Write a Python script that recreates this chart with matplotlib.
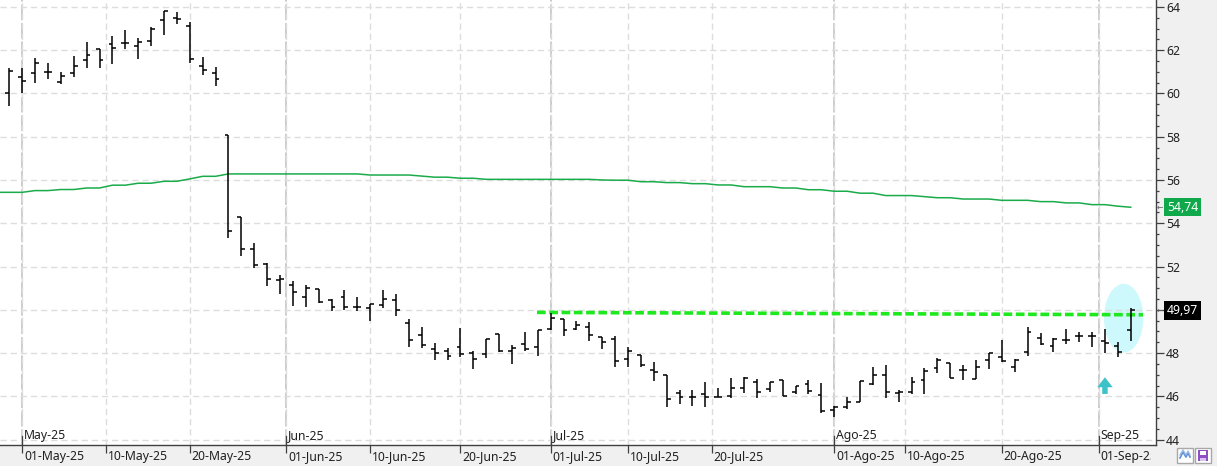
import numpy as np
import pandas as pd
import matplotlib
matplotlib.use('Agg')
import matplotlib.pyplot as plt
from matplotlib.patches import Ellipse, FancyArrow, Rectangle
from matplotlib.lines import Line2D
from matplotlib.ticker import FixedLocator, MultipleLocator
from matplotlib.transforms import blended_transform_factory, Bbox, TransformedBbox, ScaledTranslation

plt.rcParams['font.family'] = ['Noto Sans', 'DejaVu Sans']

# OHLC diario (30-abr-25 .. 04-sep-25)
opens = [60.01, 60.75, 60.93, 61.01, 60.53, 60.93, 61.54, 62.04, 62.28, 62.32,
         62.18, 62.41, 63.38, 63.49, 63.11, 61.26, 60.95, 58.08, 54.31, 52.80,
         52.12, 51.38, 51.15, 50.58, 50.95, 50.45, 50.58, 50.14, 50.07, 50.22,
         50.45, 49.40, 48.84, 48.17, 48.10, 48.27, 48.02, 47.96, 48.88, 48.10,
         48.42, 48.28, 49.10, 49.56, 49.10, 49.19, 48.73, 48.64, 47.71, 47.91,
         47.22, 46.99, 46.14, 45.96, 46.09, 45.96, 46.03, 46.40, 46.68, 46.33,
         46.76, 46.19, 46.57, 46.06, 45.37, 45.49, 45.72, 46.57, 46.99, 46.14,
         46.19, 46.76, 47.30, 47.53, 47.22, 46.79, 47.68, 47.83, 47.34, 48.06,
         48.68, 48.33, 48.60, 48.79, 48.79, 48.57, 48.33, 49.07]
highs = [61.17, 61.17, 61.63, 61.41, 61.00, 61.73, 62.38, 62.04, 62.66, 62.94,
         62.55, 63.06, 63.83, 63.75, 63.29, 61.67, 61.21, 58.08, 54.31, 53.07,
         52.15, 51.61, 51.35, 51.15, 50.96, 50.49, 50.92, 50.58, 50.27, 50.92,
         50.73, 49.56, 49.22, 48.48, 48.25, 49.15, 48.10, 48.66, 48.88, 48.36,
         48.97, 49.07, 49.87, 49.56, 49.50, 49.42, 48.76, 48.79, 48.30, 47.91,
         47.57, 46.99, 46.29, 46.29, 46.65, 46.37, 46.83, 46.91, 46.79, 46.65,
         46.76, 46.48, 46.76, 46.60, 45.55, 45.96, 46.72, 47.34, 47.45, 46.29,
         46.91, 47.30, 47.76, 47.53, 47.45, 47.68, 48.02, 48.60, 47.73, 49.19,
         48.94, 48.68, 49.10, 48.99, 48.99, 49.10, 48.53, 50.10]
lows = [59.44, 60.04, 60.47, 60.66, 60.43, 60.78, 61.19, 61.19, 61.38, 62.07,
        61.61, 62.21, 62.72, 63.20, 61.40, 60.87, 60.36, 53.31, 52.50, 51.95,
        51.12, 50.75, 50.19, 50.14, 50.30, 49.93, 49.99, 49.96, 49.50, 50.07,
        49.73, 48.30, 48.22, 47.67, 47.67, 47.80, 47.28, 47.79, 48.06, 47.48,
        48.08, 47.85, 49.07, 48.80, 49.07, 48.54, 48.17, 47.34, 47.34, 47.34,
        46.72, 45.49, 45.63, 45.57, 45.52, 45.96, 45.91, 46.14, 45.94, 46.19,
        46.03, 46.11, 46.09, 45.22, 45.03, 45.41, 45.72, 46.52, 45.91, 45.72,
        46.11, 46.09, 47.06, 46.87, 46.76, 46.79, 47.25, 47.60, 47.11, 47.88,
        48.37, 48.04, 48.42, 48.53, 48.30, 48.02, 47.80, 48.57]
closes = [61.04, 60.57, 61.41, 61.01, 60.80, 61.26, 61.77, 61.54, 62.12, 62.35,
          62.40, 62.97, 63.80, 63.43, 61.58, 61.07, 60.66, 53.66, 52.80, 52.06,
          51.41, 51.41, 50.81, 51.00, 50.35, 50.12, 50.12, 50.12, 50.27, 50.50,
          49.97, 48.59, 48.36, 48.01, 47.85, 47.94, 47.71, 48.66, 48.11, 48.22,
          48.17, 49.07, 49.61, 49.07, 49.30, 48.82, 48.53, 47.64, 48.10, 47.44,
          47.14, 45.88, 45.96, 45.96, 45.96, 45.98, 46.40, 46.83, 46.21, 46.65,
          46.03, 46.48, 46.26, 45.32, 45.49, 45.76, 46.72, 46.99, 46.21, 46.19,
          46.68, 47.19, 47.68, 46.87, 47.22, 47.37, 48.02, 47.62, 47.68, 48.96,
          48.42, 48.64, 48.60, 48.79, 48.79, 48.45, 48.06, 49.97]

# media movil (empieza una sesion antes del primer bar visible)
ma = [55.43, 55.43, 55.43, 55.51, 55.51, 55.56, 55.56, 55.63, 55.63, 55.76,
      55.76, 55.85, 55.85, 55.94, 55.94, 56.05, 56.17, 56.17, 56.28, 56.28,
      56.28, 56.28, 56.28, 56.28, 56.28, 56.28, 56.28, 56.28, 56.28, 56.23,
      56.23, 56.23, 56.23, 56.18, 56.13, 56.13, 56.08, 56.08, 56.03, 56.03,
      56.03, 56.03, 56.03, 56.03, 56.03, 56.03, 56.03, 56.00, 55.99, 55.99,
      55.92, 55.92, 55.88, 55.88, 55.83, 55.83, 55.77, 55.77, 55.69, 55.69,
      55.69, 55.63, 55.63, 55.55, 55.55, 55.48, 55.48, 55.39, 55.39, 55.28,
      55.28, 55.28, 55.23, 55.18, 55.18, 55.12, 55.12, 55.12, 55.06, 55.06,
      55.06, 55.00, 55.00, 54.94, 54.94, 54.86, 54.86, 54.79, 54.74]

holidays = ['2025-05-26', '2025-06-19', '2025-07-04', '2025-09-01']
label_dates = ['2025-05-01', '2025-05-10', '2025-05-20', '2025-06-01', '2025-06-10',
               '2025-06-20', '2025-07-01', '2025-07-10', '2025-07-20', '2025-08-01',
               '2025-08-10', '2025-08-20', '2025-09-01']
month_dates = ['2025-05-01', '2025-06-01', '2025-07-01', '2025-08-01', '2025-09-01']
mes = {5: 'May', 6: 'Jun', 7: 'Jul', 8: 'Ago', 9: 'Sep'}

resist = [49.88, 49.77]      # linea de resistencia discontinua
last_ma = 54.74
last_close = closes[-1]

dates = pd.bdate_range('2025-04-30', '2025-09-04')
dates = dates[~dates.isin(pd.to_datetime(holidays))]

def pos(d):
    d = pd.Timestamp(d)
    i = dates.searchsorted(d)
    return float(i) if (i < len(dates) and dates[i] == d) else i - 0.5

W, H = 1217, 466
fs = 8.8
fig = plt.figure(figsize=(W / 100, H / 100), dpi=100, facecolor='#f0f0f0')
ax = fig.add_axes([0, 21 / H, 1156 / W, 445 / H])
ax.set_facecolor('white')

x = np.arange(len(opens))
ax.set_xlim(-0.72, 88.96)
ax.set_ylim(43.75, 64.32)

# circulo de la ultima sesion
ax.add_patch(Ellipse((86.45, 49.61), 3.05, 3.18, facecolor='#cdf8fc', edgecolor='none', zorder=1))

# grid
xt = [pos(d) for d in label_dates]
ax.xaxis.set_major_locator(FixedLocator(xt))
ax.set_xticklabels(['%s-%s-%s' % (pd.Timestamp(d).strftime('%d'), mes[pd.Timestamp(d).month], pd.Timestamp(d).strftime('%y'))
                    for d in label_dates], ha='left')
ax.grid(True, which='major', color='#dddddd', ls=(0, (4.5, 2.8)), lw=1, zorder=0)
for d in month_dates:
    ax.axvline(pos(d), color='#cccccc', lw=1.4, ls=(0, (8, 1.5)), zorder=0)

# medias y lineas
ax.plot(np.arange(-1, len(opens)), ma, color='#1aab4a', lw=1.1, zorder=2)
ax.plot([40.94, 87.95], resist, color='#1ee81e', lw=2.6, ls=(0, (2.4, 1.0)), zorder=2)

# barras OHLC
ax.vlines(x, lows, highs, color='black', lw=1.1, zorder=3)
ax.hlines(opens, x - 0.3, x, color='black', lw=1.1, zorder=3)
ax.hlines(closes, x, x + 0.3, color='black', lw=1.1, zorder=3)

# flecha
ax.add_patch(FancyArrow(85, 46.11, 0, 0.77, width=0.42, head_width=1.2, head_length=0.46,
                        length_includes_head=True, color='#3cc2c8', lw=0, zorder=3))

# ejes
for s in ['left', 'top']:
    ax.spines[s].set_visible(False)
for s in ['right', 'bottom']:
    ax.spines[s].set_color('#404040')
    ax.spines[s].set_linewidth(1)

ax.yaxis.tick_right()
ax.set_yticks(np.arange(44, 65, 2))
ax.yaxis.set_minor_locator(MultipleLocator(0.5))
ax.tick_params(axis='y', which='major', length=5.8, width=0.9, pad=1.5, labelsize=fs,
               color='#404040', labelcolor='#202020')
ax.tick_params(axis='y', which='minor', length=2.5, width=0.9, color='#404040')
ax.tick_params(axis='x', which='major', direction='out', length=5.8, width=0.9, pad=-2.3,
               labelsize=fs, color='#404040', labelcolor='#202020')

# la etiqueta 50 queda tapada por el recuadro del ultimo precio
for t, lab in zip(ax.get_yticks(), ax.get_yticklabels()):
    if abs(t - round(last_close)) < 0.01:
        lab.set_visible(False)

# las fechas se cortan antes del borde del grafico
clip = TransformedBbox(Bbox([[0, 0], [1151 / W, 1]]), fig.transFigure)
for lab in ax.get_xticklabels():
    lab.set_transform(lab.get_transform() + ScaledTranslation(2 / 100, 0, fig.dpi_scale_trans))
    lab.set_clip_box(clip)
    lab.set_clip_on(True)

# meses
bt = blended_transform_factory(ax.transData, ax.transAxes)
for d in month_dates:
    p = pos(d)
    ax.plot([p, p], [0, 9 / 445], transform=bt, color='#404040', lw=0.9, clip_on=False, zorder=4)
    t = pd.Timestamp(d)
    ax.text(p, 6 / 445, '%s-%s' % (mes[t.month], t.strftime('%y')), transform=bt + ScaledTranslation(2 / 100, 0, fig.dpi_scale_trans),
            ha='left', va='baseline', fontsize=fs, color='#202020', zorder=4)

# etiquetas de precio a la derecha
by = blended_transform_factory(ax.transAxes, ax.transData)
ax.annotate(f'{last_ma:.2f}'.replace('.', ','), xy=(1, last_ma), xycoords=by, xytext=(11, 0),
            textcoords='offset pixels', va='center', ha='left', fontsize=fs, color='white',
            bbox=dict(boxstyle='square,pad=0.22', facecolor='#0fa84a', edgecolor='none'), annotation_clip=False)
ax.annotate(f'{last_close:.2f}'.replace('.', ','), xy=(1, last_close), xycoords=by, xytext=(11, 0),
            textcoords='offset pixels', va='center', ha='left', fontsize=fs, color='white',
            bbox=dict(boxstyle='square,pad=0.22', facecolor='black', edgecolor='none'), annotation_clip=False)
for v in [last_ma, last_close]:
    ax.annotate('\u2190', xy=(1, v), xycoords=by, xytext=(1, 0), textcoords='offset pixels',
                va='center', ha='left', fontsize=5.5, color='#606060', family='DejaVu Sans', annotation_clip=False)

# botones abajo a la derecha
fig.add_artist(Rectangle((1177 / W, 3 / H), 16 / W, 15 / H, transform=fig.transFigure,
                         facecolor='white', edgecolor='#a8a8a8', lw=1))
fig.add_artist(Line2D(np.array([1180, 1183, 1186, 1188, 1190]) / W, np.array([8, 14, 9, 13, 9]) / H,
                      transform=fig.transFigure, color='#5b8fd6', lw=1.2))
fig.add_artist(Line2D(np.array([1180, 1183, 1186, 1188, 1190]) / W, np.array([11, 16, 11, 15, 11]) / H,
                      transform=fig.transFigure, color='#9ab8e0', lw=1.0))
fig.add_artist(Rectangle((1195 / W, 3 / H), 16 / W, 15 / H, transform=fig.transFigure,
                         facecolor='white', edgecolor='#a8a8a8', lw=1))
fig.add_artist(Rectangle((1198 / W, 5 / H), 10 / W, 11 / H, transform=fig.transFigure,
                         facecolor='#8e4fc4', edgecolor='none'))
fig.add_artist(Rectangle((1200 / W, 11 / H), 6 / W, 4 / H, transform=fig.transFigure,
                         facecolor='white', edgecolor='none'))
fig.add_artist(Rectangle((1200 / W, 5 / H), 6 / W, 3 / H, transform=fig.transFigure,
                         facecolor='#d9c2ee', edgecolor='none'))

fig.savefig('out.png', dpi=100, facecolor=fig.get_facecolor())
